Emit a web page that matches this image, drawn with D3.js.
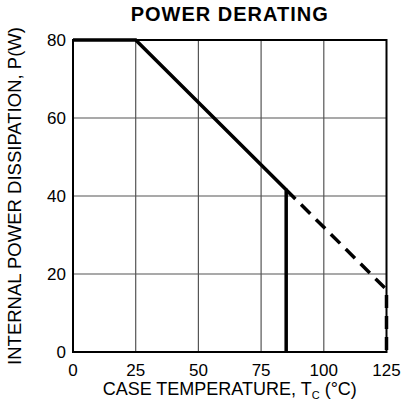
<!DOCTYPE html>
<meta charset="utf-8">
<script src="https://d3js.org/d3.v7.min.js"></script>
<style>
  body { margin: 0; background: #fff; }
  text { font-family: "Liberation Sans", Arial, sans-serif; fill: #000; }
</style>
<body>
<svg id="chart" width="403" height="406"></svg>
<script>
  // data
  var xTicks = [0, 25, 50, 75, 100, 125];
  var yTicks = [0, 20, 40, 60, 80];
  var solidLine = [[0, 80], [25, 80], [85, 41.6], [85, 0]];
  var dashedLine = [[85, 41.6], [125, 16], [125, 0]];

  var svg = d3.select("#chart");
  var pLeft = 73, pRight = 386.5, pTop = 40, pBottom = 352;

  var x = d3.scaleLinear().domain([0, 125]).range([pLeft, pRight]);
  var y = d3.scaleLinear().domain([0, 80]).range([pBottom, pTop]);

  // grid
  svg.append("g").selectAll("line")
    .data(xTicks.slice(1, -1))
    .enter().append("line")
    .attr("x1", function(d){ return x(d) }).attr("x2", function(d){ return x(d) })
    .attr("y1", pTop).attr("y2", pBottom)
    .attr("stroke", "#555").attr("stroke-width", 1.2);
  svg.append("g").selectAll("line")
    .data(yTicks.slice(1, -1))
    .enter().append("line")
    .attr("y1", function(d){ return y(d) }).attr("y2", function(d){ return y(d) })
    .attr("x1", pLeft).attr("x2", pRight)
    .attr("stroke", "#555").attr("stroke-width", 1.2);

  // frame
  svg.append("rect")
    .attr("x", pLeft).attr("y", pTop)
    .attr("width", pRight - pLeft).attr("height", pBottom - pTop)
    .attr("fill", "none").attr("stroke", "#000").attr("stroke-width", 2);

  // tick labels
  svg.append("g").selectAll("text")
    .data(xTicks)
    .enter().append("text")
    .attr("x", function(d){ return x(d) })
    .attr("y", 376)
    .attr("text-anchor", "middle")
    .style("font-size", "17px")
    .text(function(d){ return d });
  svg.append("g").selectAll("text")
    .data(yTicks)
    .enter().append("text")
    .attr("x", 66)
    .attr("y", function(d){ return y(d) + 6 })
    .attr("text-anchor", "end")
    .style("font-size", "17px")
    .text(function(d){ return d });

  // curve
  var line = d3.line().x(function(d){ return x(d[0]) }).y(function(d){ return y(d[1]) });
  svg.append("path")
    .attr("d", line(solidLine))
    .attr("fill", "none").attr("stroke", "#000").attr("stroke-width", 3.5);
  svg.append("path")
    .attr("d", line(dashedLine))
    .attr("fill", "none").attr("stroke", "#000").attr("stroke-width", 3.5)
    .attr("stroke-dasharray", "13,8");

  // titles
  svg.append("text")
    .attr("x", (pLeft + pRight) / 2).attr("y", 21)
    .attr("text-anchor", "middle")
    .style("font-size", "20px").style("font-weight", "bold")
    .style("letter-spacing", "1px")
    .text("POWER DERATING");

  var xl = svg.append("text")
    .attr("x", (pLeft + pRight) / 2).attr("y", 395)
    .attr("text-anchor", "middle")
    .style("font-size", "18px");
  xl.append("tspan").text("CASE TEMPERATURE, T");
  xl.append("tspan").attr("dy", 4).style("font-size", "11px").text("C");
  xl.append("tspan").attr("dy", -4).text(" (°C)");

  svg.append("text")
    .attr("transform", "translate(21," + (pTop + pBottom) / 2 + ") rotate(-90)")
    .attr("text-anchor", "middle")
    .style("font-size", "18.5px")
    .text("INTERNAL POWER DISSIPATION, P(W)");
</script>
</body>
